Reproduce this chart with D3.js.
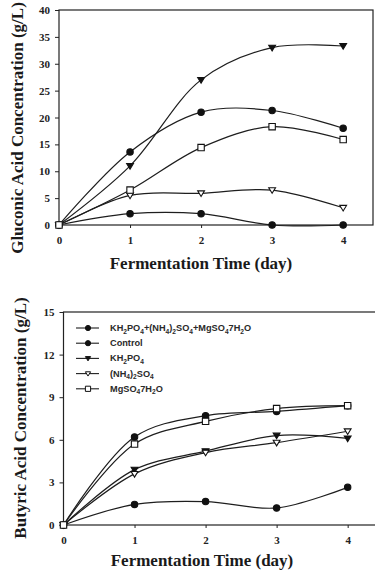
<!DOCTYPE html>
<html>
<head>
<meta charset="utf-8">
<script src="https://cdn.jsdelivr.net/npm/d3@7"></script>
<style>
  html, body { margin: 0; padding: 0; background: #fff; }
  svg { display: block; }
  .tick text { font-family: "Liberation Serif", "DejaVu Serif", serif; font-weight: bold; font-size: 11px; fill: #222; }
  .tick line { stroke: #222; }
  .title { font-family: "Liberation Serif", "DejaVu Serif", serif; font-weight: bold; font-size: 17px; fill: #1a1a1a; }
  .legend text { font-family: "Liberation Sans", Arial, sans-serif; font-size: 9.2px; font-weight: bold; fill: #2a2a2a; }
</style>
</head>
<body>
<div id="chart"></div>
<script>
// days sampled
const days = [0, 1, 2, 3, 4];

// series labels ("_n" = subscript digit)
const seriesLabels = [
  "KH_2PO_4+(NH_4)_2SO_4+MgSO_47H_2O",
  "Control",
  "KH_2PO_4",
  "(NH_4)_2SO_4",
  "MgSO_47H_2O"
];
const seriesSymbols = ["circle", "circle", "triangle", "triangle", "square"];
const seriesFilled = [true, true, true, false, false];

// gluconic acid (g/L)
const gluconicMix     = [0, 13.6, 21.0, 21.3, 18.0];
const gluconicControl = [0, 2.1, 2.1, 0, 0];
const gluconicKH2PO4  = [0, 11.0, 27.0, 33.0, 33.3];
const gluconicNH4     = [0, 5.5, 5.9, 6.5, 3.2];
const gluconicMgSO4   = [0, 6.5, 14.4, 18.3, 15.9];

// butyric acid (g/L)
const butyricMix     = [0, 6.2, 7.7, 8.0, 8.4];
const butyricControl = [0, 1.45, 1.65, 1.2, 2.65];
const butyricKH2PO4  = [0, 3.9, 5.2, 6.3, 6.1];
const butyricNH4     = [0, 3.6, 5.1, 5.8, 6.6];
const butyricMgSO4   = [0, 5.7, 7.3, 8.2, 8.4];

// tick labels
const xTicks = [0, 1, 2, 3, 4];
const gluconicTicks = [0, 5, 10, 15, 20, 25, 30, 35, 40];
const butyricTicks = [0, 3, 6, 9, 12, 15];

const svg = d3.select("#chart").append("svg")
  .attr("width", 375)
  .attr("height", 577);

function symbolPath(kind, r) {
  if (kind === "circle") return d3.symbol(d3.symbolCircle, Math.PI * r * r)();
  if (kind === "square") return d3.symbol(d3.symbolSquare, 4 * r * r)();
  // downward triangle
  return `M${-r},${-r * 0.7}L${r},${-r * 0.7}L0,${r * 0.95}Z`;
}

function drawPanel(cfg) {
  const g = svg.append("g");
  const x = d3.scaleLinear().domain([0, 4.42]).range([cfg.left, cfg.right]);
  const y = d3.scaleLinear().domain([0, cfg.yMax]).range([cfg.bottom, cfg.top]);

  // frame
  g.append("rect")
    .attr("x", cfg.left).attr("y", cfg.top)
    .attr("width", cfg.right - cfg.left).attr("height", cfg.bottom - cfg.top)
    .attr("fill", "none").attr("stroke", "#222").attr("stroke-width", 1.2);

  const yAxis = g.append("g")
    .attr("transform", `translate(${cfg.left},0)`)
    .call(d3.axisLeft(y).tickValues(cfg.yTicks).tickSize(4).tickSizeOuter(0).tickPadding(5));
  yAxis.select(".domain").remove();

  const xAxis = g.append("g")
    .attr("transform", `translate(0,${cfg.bottom})`)
    .call(d3.axisBottom(x).tickValues(xTicks).tickSize(3).tickSizeOuter(0).tickPadding(8).tickFormat(d3.format("d")));
  xAxis.select(".domain").remove();

  const line = d3.line()
    .x((d, i) => x(days[i]))
    .y(d => y(d))
    .curve(d3.curveCatmullRom.alpha(0.5));

  cfg.series.forEach(vals => {
    g.append("path")
      .attr("d", line(vals))
      .attr("fill", "none")
      .attr("stroke", "#1e1e1e")
      .attr("stroke-width", 1.2);
  });

  // filled markers first, open ones on top
  const order = [0, 1, 2, 3, 4].sort((a, b) => seriesFilled[b] - seriesFilled[a]);
  order.forEach(si => {
    const kind = seriesSymbols[si];
    g.selectAll(null)
      .data(cfg.series[si])
      .join("path")
      .attr("transform", (d, i) => `translate(${x(days[i])},${y(d)})`)
      .attr("d", symbolPath(kind, kind === "triangle" ? 3.4 : 3.2))
      .attr("fill", seriesFilled[si] ? "#111" : "#fff")
      .attr("stroke", "#111")
      .attr("stroke-width", 1.1);
  });

  // axis titles
  svg.append("text")
    .attr("class", "title")
    .attr("transform", `translate(${cfg.yTitleX},${cfg.yTitleY}) rotate(-90)`)
    .attr("text-anchor", "middle")
    .text(cfg.yTitle);
  svg.append("text")
    .attr("class", "title")
    .attr("x", cfg.xTitleX).attr("y", cfg.xTitleY)
    .attr("text-anchor", "middle")
    .text("Fermentation Time (day)");

  return { x, y };
}

drawPanel({
  left: 59, right: 373, top: 10, bottom: 225, yMax: 40,
  yTicks: gluconicTicks,
  series: [gluconicMix, gluconicControl, gluconicKH2PO4, gluconicNH4, gluconicMgSO4],
  yTitle: "Gluconic Acid Concentration (g/L)", yTitleX: 23, yTitleY: 128,
  xTitleX: 201, xTitleY: 269
});

drawPanel({
  left: 63.5, right: 377.5, top: 312, bottom: 525, yMax: 15,
  yTicks: butyricTicks,
  series: [butyricMix, butyricControl, butyricKH2PO4, butyricNH4, butyricMgSO4],
  yTitle: "Butyric Acid Concentration (g/L)", yTitleX: 26, yTitleY: 418,
  xTitleX: 202, xTitleY: 566
});

// legend
const legend = svg.append("g").attr("class", "legend");
seriesLabels.forEach((lab, i) => {
  const ly = 328 + i * 15.2;
  legend.append("line")
    .attr("x1", 76).attr("x2", 99).attr("y1", ly).attr("y2", ly)
    .attr("stroke", "#1e1e1e").attr("stroke-width", 1.1);
  legend.append("path")
    .attr("transform", `translate(88,${ly})`)
    .attr("d", symbolPath(seriesSymbols[i], 2.6))
    .attr("fill", seriesFilled[i] ? "#111" : "#fff")
    .attr("stroke", "#111").attr("stroke-width", 1);
  const t = legend.append("text").attr("x", 110).attr("y", ly + 3);
  let shift = 0;
  lab.split(/_(\d)/).forEach((part, k) => {
    if (!part) return;
    const sub = k % 2 === 1;
    const target = sub ? 2.5 : 0;
    t.append("tspan")
      .attr("dy", target - shift)
      .attr("font-size", sub ? "6.6px" : null)
      .text(part);
    shift = target;
  });
});
</script>
</body>
</html>
